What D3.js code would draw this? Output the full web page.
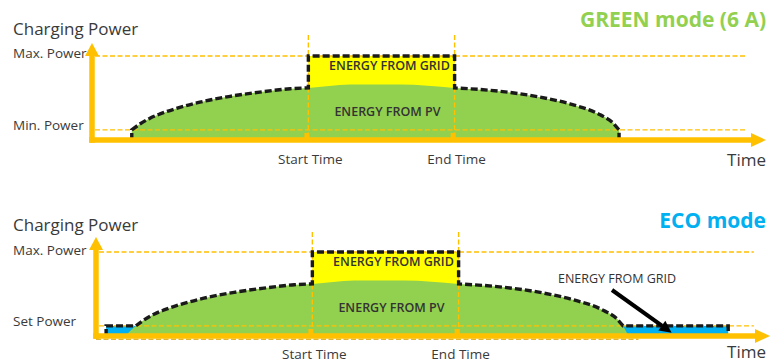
<!DOCTYPE html>
<html>
<head>
<meta charset="utf-8">
<script src="https://cdn.jsdelivr.net/npm/d3@7/dist/d3.min.js"></script>
<style>
  html, body { margin: 0; padding: 0; background: #ffffff; }
  svg { display: block; font-family: "Open Sans", "Noto Sans", sans-serif; }
</style>
</head>
<body>
<script>
// PV production profile over the day (time in % of the shown span, power in % of max)
const pvTime  = [4.3, 5.9, 7.1, 8.6, 10.1, 12.3, 16.0, 20.5, 24.9, 29.4, 32.1, 38.3, 45.7, 53.8, 60.5, 66.5, 70.9, 75.4, 77.2, 78.2, 79.0];
const pvPower = [0,   12,  19,  26,  31,   37,   45,   52,   57,   61,   62,   66,   66,   62,   58,   51,   43,   30,   21,   12,   0];

// Scheduled window and power levels
const startTime = 32.1;
const endTime = 53.8;
const maxPower = 100;
const minPower = 12;      // GREEN mode minimum (6 A)
const setPower = 12;      // ECO mode set power
const ecoChargeStart = 1.5;
const ecoChargeEnd = 93.8;

// Text
const modeTitles = ["GREEN mode (6 A)", "ECO mode"];
const lowLabels = ["Min. Power", "Set Power"];
const timeLabels = ["Start Time", "End Time"];

const ORANGE = "#ffc000";
const GREEN = "#92d050";
const YELLOW = "#ffff00";
const BLUE = "#00b0f0";
const TEXT = "#3a3a3a";

const pv = pvTime.map((t, i) => ({ t, p: pvPower[i] }));

const svg = d3.select("body").append("svg")
  .attr("width", 774).attr("height", 363);

const panels = [
  { mode: "green", x0: 92, x1: 766, y0: 140, yTop: 56, guideTop: 35, arrowTop: 43,
    titleY: 27, headY: 35, maxLblY: 58, lowLblY: 130, timeLblY: 164, timeWordY: 166 },
  { mode: "eco", x0: 96, x1: 770, y0: 336, yTop: 252, guideTop: 232, arrowTop: 237,
    titleY: 228, headY: 231, maxLblY: 255, lowLblY: 326, timeLblY: 359, timeWordY: 358 }
];

// Join straight and curved pieces into one continuous path string
function joinPieces(pieces) {
  let d = "";
  pieces.forEach((s, i) => { d += (i === 0) ? s : "L" + s.slice(1); });
  return d;
}

panels.forEach((P, pi) => {
  const g = svg.append("g");
  const x = d3.scaleLinear().domain([0, 100]).range([P.x0, P.x1]);
  const y = d3.scaleLinear().domain([0, maxPower]).range([P.y0, P.yTop]);

  const curve = d3.line().x(d => x(d.t)).y(d => y(d.p)).curve(d3.curveMonotoneX);
  const area = d3.area().x(d => x(d.t)).y0(y(0)).y1(d => y(d.p)).curve(d3.curveMonotoneX);
  const seg = pts => d3.line().x(d => x(d[0])).y(d => y(d[1]))(pts);
  const pvAt = t => pv.find(d => d.t === t).p;

  const lowPower = P.mode === "green" ? minPower : setPower;
  const above = pv.filter(d => d.p >= lowPower);
  const cutL = above[0].t, cutR = above[above.length - 1].t;

  // Grid energy in the scheduled window
  g.append("rect")
    .attr("x", x(startTime)).attr("y", y(maxPower))
    .attr("width", x(endTime) - x(startTime)).attr("height", y(0) - y(maxPower))
    .attr("fill", YELLOW);

  if (P.mode === "eco") {
    // Grid top-up to set power when PV is low
    g.append("rect")
      .attr("x", x(ecoChargeStart)).attr("y", y(setPower))
      .attr("width", x(ecoChargeEnd) - x(ecoChargeStart)).attr("height", y(0) - y(setPower))
      .attr("fill", BLUE);
    g.append("path").attr("d", area(pv)).attr("fill", GREEN);
  } else {
    g.append("path").attr("d", area(above)).attr("fill", GREEN);
  }

  // Guide lines
  const guide = sel => sel.attr("stroke", ORANGE).attr("stroke-width", 1.4)
    .attr("stroke-dasharray", "5,2.5").attr("fill", "none");
  const guideEnd = P.mode === "green" ? 97 : 97.6;
  [maxPower, lowPower].forEach(v => {
    g.append("line").call(guide)
      .attr("x1", P.x0 + 3).attr("x2", x(guideEnd))
      .attr("y1", y(v)).attr("y2", y(v));
  });
  [startTime, endTime].forEach(t => {
    g.append("line").call(guide)
      .attr("x1", x(t)).attr("x2", x(t))
      .attr("y1", P.guideTop).attr("y2", P.y0);
    g.append("rect")
      .attr("x", x(t) - 4).attr("y", P.y0 - 7)
      .attr("width", 5).attr("height", 5).attr("fill", ORANGE);
  });

  // Charging power outline
  const inWin = (a, b) => pv.filter(d => d.t >= a && d.t <= b);
  let pieces;
  if (P.mode === "green") {
    pieces = [
      seg([[cutL, 0], [cutL, pvAt(cutL)]]),
      curve(inWin(cutL, startTime)),
      seg([[startTime, pvAt(startTime)], [startTime, maxPower], [endTime, maxPower], [endTime, pvAt(endTime)]]),
      curve(inWin(endTime, cutR)),
      seg([[cutR, pvAt(cutR)], [cutR, 0]])
    ];
  } else {
    pieces = [
      seg([[ecoChargeStart, 0], [ecoChargeStart, setPower], [cutL, setPower]]),
      curve(inWin(cutL, startTime)),
      seg([[startTime, pvAt(startTime)], [startTime, maxPower], [endTime, maxPower], [endTime, pvAt(endTime)]]),
      curve(inWin(endTime, cutR)),
      seg([[cutR, setPower], [ecoChargeEnd, setPower], [ecoChargeEnd, 0]])
    ];
  }
  g.append("path").attr("d", joinPieces(pieces))
    .attr("fill", "none").attr("stroke", "#1a1a1a").attr("stroke-width", 3.4)
    .attr("stroke-dasharray", "7,3");

  // Axes with arrow heads
  const axisW = 5.5;
  g.append("line")
    .attr("x1", P.x0).attr("x2", P.x0)
    .attr("y1", P.y0 + axisW / 2).attr("y2", P.arrowTop + 10)
    .attr("stroke", ORANGE).attr("stroke-width", axisW);
  g.append("path")
    .attr("d", `M${P.x0 - 7},${P.arrowTop + 13} L${P.x0},${P.arrowTop} L${P.x0 + 7},${P.arrowTop + 13} Z`)
    .attr("fill", ORANGE);
  g.append("line")
    .attr("x1", P.x0 - axisW / 2).attr("x2", P.x1 - 12)
    .attr("y1", P.y0).attr("y2", P.y0)
    .attr("stroke", ORANGE).attr("stroke-width", axisW);
  g.append("path")
    .attr("d", `M${P.x1 - 15},${P.y0 - 7} L${P.x1},${P.y0} L${P.x1 - 15},${P.y0 + 7} Z`)
    .attr("fill", ORANGE);

  if (P.mode === "eco") {
    g.append("line")
      .attr("x1", P.x0).attr("x2", x(80.5))
      .attr("y1", P.y0 + 3.3).attr("y2", P.y0 + 3.3)
      .attr("stroke", "#d9a300").attr("stroke-width", 1).attr("stroke-dasharray", "5,2.5");
  }

  // Text
  g.append("text").attr("x", 13).attr("y", P.headY)
    .attr("font-size", 17).attr("fill", TEXT).text("Charging Power");
  g.append("text").attr("x", 13).attr("y", P.maxLblY)
    .attr("font-size", 13.5).attr("fill", TEXT).text("Max. Power");
  g.append("text").attr("x", 13).attr("y", P.lowLblY)
    .attr("font-size", 13.5).attr("fill", TEXT).text(lowLabels[pi]);
  g.append("text").attr("x", 766).attr("y", P.titleY).attr("text-anchor", "end")
    .attr("font-size", 21).attr("font-weight", 700)
    .attr("fill", P.mode === "green" ? GREEN : BLUE).text(modeTitles[pi]);
  [startTime, endTime].forEach((t, i) => {
    g.append("text").attr("x", x(t) + 2).attr("y", P.timeLblY).attr("text-anchor", "middle")
      .attr("font-size", 13.5).attr("fill", TEXT).text(timeLabels[i]);
  });
  g.append("text").attr("x", 766).attr("y", P.timeWordY).attr("text-anchor", "end")
    .attr("font-size", 17).attr("fill", TEXT).text("Time");

  const midX = (x(startTime) + x(endTime)) / 2 + 8;
  g.append("text").attr("x", midX).attr("y", y(maxPower) + 14).attr("text-anchor", "middle")
    .attr("font-size", 12.5).attr("font-weight", 600).attr("fill", "#333").text("ENERGY FROM GRID");
  g.append("text").attr("x", midX - 2).attr("y", y(0) - 24).attr("text-anchor", "middle")
    .attr("font-size", 12.5).attr("font-weight", 600).attr("fill", "#333").text("ENERGY FROM PV");

  if (P.mode === "eco") {
    g.append("text").attr("x", 617).attr("y", 283).attr("text-anchor", "middle")
      .attr("font-size", 12.5).attr("fill", "#333").text("ENERGY FROM GRID");
    // pointer to the grid top-up strip
    const tipX = x(85.4), tipY = y(setPower / 3);
    const fromX = 612, fromY = 290;
    const ang = Math.atan2(tipY - fromY, tipX - fromX);
    const back = 12, half = 6;
    const bx = tipX - back * Math.cos(ang), by = tipY - back * Math.sin(ang);
    g.append("line").attr("x1", fromX).attr("y1", fromY).attr("x2", bx).attr("y2", by)
      .attr("stroke", "#000").attr("stroke-width", 4);
    g.append("path")
      .attr("d", `M${tipX},${tipY} L${bx + half * Math.sin(ang)},${by - half * Math.cos(ang)} L${bx - half * Math.sin(ang)},${by + half * Math.cos(ang)} Z`)
      .attr("fill", "#000");
  }
});
</script>
</body>
</html>
